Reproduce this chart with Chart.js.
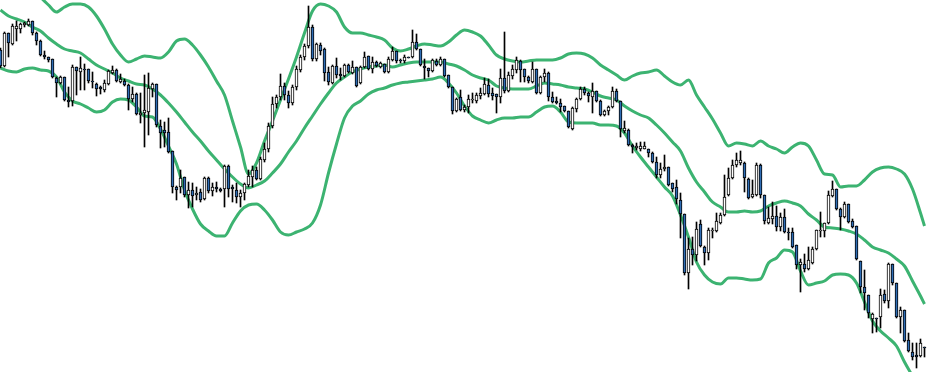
<!DOCTYPE html>
<html>
<head>
<meta charset="utf-8">
<script src="https://cdn.jsdelivr.net/npm/chart.js@4.4.1/dist/chart.umd.min.js"></script>
<style>
  html, body { margin: 0; padding: 0; background: #fff; }
  canvas { display: block; }
</style>
</head>
<body>
<canvas id="bbChart" width="927" height="372"></canvas>
<script>
// Velas (una por sesión)
const opens = [
  2950,2934,2967,2956,2971,2971,2975,2975,2979,2967,
  2959,2945,2943,2941,2922,2917,2923,2900,2899,2933,
  2928,2931,2931,2919,2916,2913,2910,2916,2927,2930,
  2918,2919,2915,2901,2906,2885,2887,2888,2911,2916,
  2874,2870,2868,2849,2813,2813,2823,2805,2810,2805,
  2808,2801,2822,2809,2813,2811,2811,2834,2813,2810,
  2803,2807,2815,2823,2830,2821,2840,2851,2874,2896,
  2903,2914,2905,2897,2913,2930,2943,2954,2973,2941,
  2955,2951,2928,2917,2934,2926,2924,2935,2927,2933,
  2917,2933,2944,2931,2938,2933,2936,2928,2940,2949,
  2940,2939,2943,2943,2958,2951,2934,2932,2929,2939,
  2935,2941,2925,2913,2889,2903,2890,2893,2900,2899,
  2904,2906,2915,2907,2906,2903,2922,2909,2924,2930,
  2939,2931,2923,2918,2931,2907,2923,2927,2903,2899,
  2897,2894,2889,2871,2891,2901,2911,2907,2903,2909,
  2899,2885,2889,2893,2909,2899,2869,2870,2855,2852,
  2851,2851,2851,2847,2838,2825,2831,2833,2817,2813,
  2800,2786,2727,2751,2745,2776,2753,2747,2769,2769,
  2777,2785,2805,2822,2835,2837,2837,2821,2803,2805,
  2835,2805,2777,2781,2784,2773,2783,2768,2768,2755,
  2735,2736,2731,2737,2751,2769,2769,2777,2804,2811,
  2791,2783,2796,2779,2774,2739,2713,2705,2681,2682,
  2683,2706,2699,2736,2717,2683,2690,2660,2648,2645,
  2644,2653
];
const highs = [
  2952,2968,2967,2976,2979,2977,2978,2981,2979,2968,
  2960,2949,2943,2941,2923,2924,2923,2913,2935,2933,
  2943,2936,2931,2928,2917,2914,2920,2930,2934,2931,
  2926,2921,2916,2913,2907,2907,2925,2927,2917,2916,
  2880,2878,2882,2849,2814,2830,2823,2818,2817,2813,
  2811,2823,2823,2817,2818,2812,2835,2835,2815,2817,
  2810,2817,2830,2834,2833,2843,2857,2877,2903,2905,
  2926,2917,2909,2915,2934,2945,2956,2994,2975,2957,
  2957,2952,2933,2935,2942,2932,2936,2936,2939,2933,
  2934,2948,2944,2943,2939,2938,2936,2943,2953,2949,
  2941,2945,2943,2970,2966,2951,2941,2932,2941,2941,
  2943,2941,2925,2913,2902,2910,2895,2905,2907,2907,
  2912,2922,2921,2912,2906,2931,2968,2928,2935,2943,
  2940,2931,2924,2938,2931,2924,2931,2928,2908,2903,
  2901,2894,2889,2893,2902,2913,2913,2908,2917,2909,
  2900,2890,2894,2913,2911,2899,2879,2871,2856,2857,
  2858,2858,2851,2848,2843,2837,2845,2833,2817,2820,
  2807,2786,2762,2763,2778,2780,2754,2772,2772,2787,
  2787,2825,2832,2840,2847,2849,2838,2822,2820,2837,
  2836,2805,2793,2798,2794,2787,2791,2772,2772,2755,
  2741,2746,2753,2753,2770,2788,2777,2809,2819,2811,
  2792,2798,2796,2781,2774,2739,2730,2705,2687,2682,
  2711,2710,2737,2736,2717,2693,2690,2667,2657,2657,
  2661,2653
];
const lows = [
  2932,2933,2943,2955,2959,2967,2973,2974,2965,2955,
  2944,2941,2938,2922,2903,2916,2899,2893,2894,2905,
  2910,2910,2917,2912,2904,2906,2908,2915,2926,2918,
  2917,2914,2890,2898,2885,2877,2853,2865,2903,2873,
  2852,2853,2847,2807,2800,2807,2803,2792,2793,2800,
  2798,2800,2807,2804,2808,2808,2793,2803,2798,2797,
  2793,2800,2813,2813,2820,2820,2838,2848,2872,2892,
  2900,2900,2892,2895,2910,2928,2940,2952,2939,2939,
  2945,2919,2915,2916,2922,2920,2923,2927,2926,2913,
  2916,2932,2930,2927,2933,2932,2927,2927,2939,2937,
  2937,2937,2942,2942,2950,2934,2921,2923,2928,2934,
  2934,2923,2912,2886,2888,2889,2888,2887,2897,2897,
  2901,2905,2903,2900,2887,2897,2907,2908,2921,2927,
  2918,2918,2917,2917,2906,2906,2918,2899,2897,2896,
  2888,2888,2872,2870,2888,2900,2905,2898,2887,2898,
  2884,2884,2885,2892,2898,2863,2867,2854,2847,2850,
  2849,2851,2843,2837,2822,2822,2829,2814,2808,2796,
  2762,2725,2711,2735,2739,2753,2735,2740,2762,2768,
  2776,2784,2804,2821,2833,2835,2808,2801,2802,2804,
  2802,2776,2776,2776,2769,2769,2767,2760,2752,2731,
  2708,2728,2730,2736,2750,2763,2763,2776,2803,2790,
  2770,2782,2777,2772,2740,2707,2690,2682,2667,2668,
  2672,2697,2692,2715,2682,2667,2658,2648,2640,2632,
  2643,2643
];
const closes = [
  2934,2967,2957,2974,2974,2976,2977,2979,2967,2959,
  2945,2943,2940,2923,2917,2923,2900,2898,2933,2929,
  2932,2930,2919,2918,2911,2911,2917,2929,2930,2919,
  2921,2915,2901,2906,2886,2887,2890,2912,2916,2875,
  2867,2867,2848,2813,2810,2822,2805,2810,2804,2807,
  2800,2822,2809,2813,2811,2809,2834,2811,2811,2803,
  2807,2816,2824,2830,2821,2841,2851,2874,2896,2903,
  2914,2905,2897,2913,2931,2943,2954,2973,2941,2956,
  2949,2927,2918,2934,2925,2924,2935,2928,2933,2914,
  2933,2943,2931,2938,2934,2937,2928,2941,2949,2939,
  2939,2943,2942,2958,2951,2935,2932,2929,2940,2935,
  2941,2924,2913,2889,2901,2890,2893,2901,2901,2905,
  2907,2916,2906,2904,2903,2922,2909,2925,2931,2940,
  2930,2923,2919,2931,2907,2923,2927,2903,2898,2897,
  2893,2889,2873,2892,2901,2911,2907,2904,2909,2899,
  2885,2889,2893,2909,2899,2871,2872,2855,2853,2854,
  2854,2854,2847,2838,2825,2831,2833,2815,2811,2801,
  2786,2727,2751,2745,2771,2754,2747,2770,2770,2779,
  2785,2803,2822,2835,2840,2840,2822,2802,2806,2835,
  2805,2779,2782,2784,2773,2783,2768,2767,2753,2735,
  2738,2731,2740,2751,2770,2770,2777,2805,2811,2791,
  2783,2796,2778,2773,2741,2713,2707,2687,2686,2681,
  2705,2699,2736,2717,2683,2690,2659,2649,2643,2643,
  2657,2652
];

// Bandas de Bollinger, leídas cada dos velas (y la última)
const upperBand = [
  3048,3041,3034,3024,3014,3003,2995,2988,2993,2996,
  2996,2993,2984,2971,2956,2945,2938,2941,2944,2943,
  2942,2948,2959,2961,2955,2945,2933,2919,2905,2879,
  2853,2826,2837,2859,2879,2900,2921,2943,2967,2989,
  2996,2994,2988,2973,2967,2967,2965,2963,2960,2952,
  2949,2951,2954,2956,2955,2954,2958,2965,2970,2968,
  2964,2955,2945,2941,2939,2938,2939,2940,2940,2940,
  2942,2946,2947,2946,2942,2935,2930,2925,2920,2924,
  2927,2928,2930,2924,2918,2915,2920,2905,2893,2881,
  2867,2854,2857,2856,2854,2859,2854,2851,2847,2853,
  2857,2854,2840,2826,2825,2813,2814,2814,2820,2828,
  2832,2833,2831,2826,2811,2787,2774
];
const middleBand = [
  2990,2984,2981,2978,2973,2969,2962,2956,2951,2949,
  2947,2941,2935,2931,2927,2922,2919,2916,2915,2911,
  2905,2897,2888,2878,2868,2859,2849,2840,2831,2823,
  2816,2812,2815,2819,2827,2836,2848,2859,2872,2884,
  2896,2907,2917,2923,2928,2931,2933,2934,2935,2933,
  2935,2937,2938,2938,2938,2938,2936,2934,2930,2925,
  2922,2920,2914,2912,2911,2911,2911,2914,2917,2916,
  2915,2913,2912,2911,2908,2904,2902,2900,2894,2889,
  2885,2882,2875,2867,2858,2849,2832,2818,2808,2798,
  2793,2788,2788,2789,2788,2789,2794,2797,2799,2797,
  2794,2786,2780,2773,2772,2771,2769,2766,2760,2753,
  2750,2747,2741,2734,2719,2704,2696
];
const lowerBand = [
  2932,2929,2928,2931,2932,2930,2929,2923,2908,2899,
  2896,2892,2888,2890,2898,2901,2900,2893,2884,2883,
  2871,2854,2836,2810,2791,2776,2769,2764,2764,2777,
  2789,2795,2796,2790,2780,2768,2765,2768,2771,2777,
  2795,2827,2856,2882,2894,2899,2906,2910,2912,2915,
  2917,2918,2919,2920,2921,2923,2917,2907,2894,2884,
  2880,2877,2880,2882,2882,2883,2883,2888,2893,2894,
  2888,2878,2877,2877,2877,2875,2875,2874,2867,2854,
  2843,2833,2823,2813,2804,2785,2763,2738,2725,2718,
  2716,2722,2722,2721,2720,2721,2737,2742,2750,2748,
  2729,2715,2717,2719,2725,2726,2725,2717,2698,2679,
  2669,2662,2654,2638,2624,2610,2604
];

// Escala de precios visible en la imagen
const priceMin = 2628;
const priceMax = 3000;

const bearColor = '#2f6db5';
const bullColor = '#ffffff';
const bandColor = '#3cb371';

// Posiciones de las bandas: velas pares y la última
const bandIdx = [];
for (let k = 0; k < opens.length; k += 2) bandIdx.push(k);
bandIdx.push(opens.length - 1);

const bodies = opens.map((o, i) => ({ x: i, y: [o, closes[i]] }));
const wicks = opens.map((o, i) => ({ x: i, y: [lows[i], highs[i]] }));
const bodyColors = opens.map((o, i) => closes[i] < o ? bearColor : bullColor);

function bandData(values) {
    return values.map((v, j) => ({ x: bandIdx[j], y: v }));
}

function bandDataset(values) {
    return {
        type: 'line',
        data: bandData(values),
        borderColor: bandColor,
        borderWidth: 3,
        pointRadius: 0,
        fill: false,
        cubicInterpolationMode: 'monotone',
        order: 3
    };
}

const ctx = document.getElementById('bbChart').getContext('2d');

new Chart(ctx, {
    type: 'bar',
    data: {
        datasets: [
            {
                label: 'Cuerpo',
                data: bodies,
                backgroundColor: bodyColors,
                borderColor: '#000000',
                borderWidth: 1,
                borderSkipped: false,
                barThickness: 3,
                grouped: false,
                order: 1
            },
            {
                label: 'Mecha',
                data: wicks,
                backgroundColor: '#000000',
                borderWidth: 0,
                barThickness: 1,
                grouped: false,
                order: 2
            },
            bandDataset(upperBand),
            bandDataset(middleBand),
            bandDataset(lowerBand)
        ]
    },
    options: {
        responsive: false,
        animation: false,
        layout: { padding: 0 },
        scales: {
            x: {
                type: 'linear',
                display: false,
                min: -0.125,
                max: opens.length - 0.375,
                offset: false
            },
            y: {
                type: 'linear',
                display: false,
                min: priceMin,
                max: priceMax
            }
        },
        plugins: {
            legend: { display: false },
            tooltip: { enabled: false }
        }
    }
});
</script>
</body>
</html>
